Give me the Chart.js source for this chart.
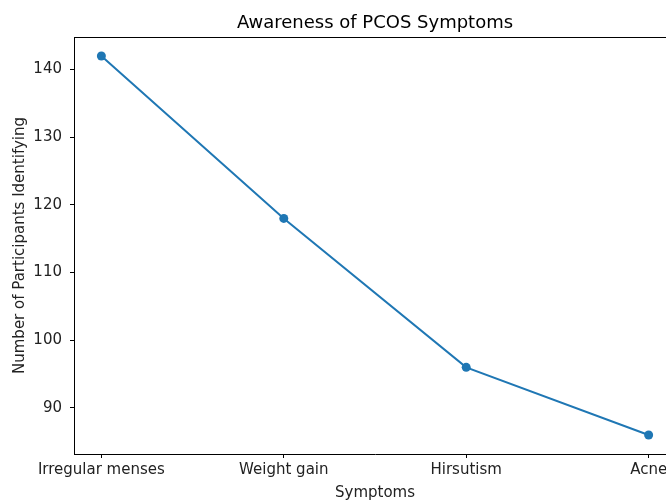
<!DOCTYPE html>
<html>
<head>
<meta charset="utf-8">
<script src="https://cdn.jsdelivr.net/npm/chart.js@4.4.1/dist/chart.umd.min.js"></script>
<style>
  html, body { margin: 0; padding: 0; background: #fff; overflow: hidden; }
  #wrap { width: 700px; height: 504px; }
</style>
</head>
<body>
<div id="wrap"><canvas id="chart" width="700" height="504"></canvas></div>
<script>
const symptoms = ['Irregular menses', 'Weight gain', 'Hirsutism', 'Acne'];
const participants = [142, 118, 96, 86];
const yTicks = [90, 100, 110, 120, 130, 140];

const FONT = 'DejaVu Sans';
const LINE = '#1f77b4';

// title, axis titles and top spine, placed relative to the chart area
const textPlugin = {
  id: 'mplText',
  afterDraw(chart) {
    const ctx = chart.ctx;
    const a = chart.chartArea;
    ctx.save();
    ctx.strokeStyle = '#000';
    ctx.lineWidth = 1;
    ctx.beginPath();
    ctx.moveTo(a.left, a.top + 0.5);
    ctx.lineTo(a.right, a.top + 0.5);
    ctx.stroke();

    ctx.fillStyle = '#000';
    ctx.textAlign = 'center';
    ctx.textBaseline = 'alphabetic';
    ctx.font = '18px "' + FONT + '"';
    ctx.fillText('Awareness of PCOS Symptoms', (a.left + a.right) / 2, 28);

    ctx.fillStyle = '#222';
    ctx.font = '15px "' + FONT + '"';
    ctx.fillText('Symptoms', (a.left + a.right) / 2, 497);

    ctx.translate(24, (a.top + a.bottom) / 2);
    ctx.rotate(-Math.PI / 2);
    ctx.fillText('Number of Participants Identifying', 0, 0);
    ctx.restore();
  }
};

new Chart(document.getElementById('chart'), {
  type: 'line',
  data: {
    datasets: [{
      data: participants.map((v, i) => ({ x: i, y: v })),
      borderColor: LINE,
      backgroundColor: LINE,
      borderWidth: 2,
      pointRadius: 4.5,
      pointHoverRadius: 4.5,
      pointBorderWidth: 0,
      tension: 0
    }]
  },
  options: {
    responsive: false,
    animation: false,
    layout: { padding: { left: 0, top: 37, right: 24, bottom: 0 } },
    plugins: { legend: { display: false }, tooltip: { enabled: false } },
    scales: {
      x: {
        type: 'linear',
        min: -0.15,
        max: 3.15,
        afterBuildTicks: s => { s.ticks = symptoms.map((_, i) => ({ value: i })); },
        afterFit: s => { s.height = 50; },
        ticks: {
          callback: v => symptoms[v],
          color: '#222',
          font: { family: FONT, size: 15 },
          padding: 3,
          maxRotation: 0,
          autoSkip: false
        },
        grid: { drawOnChartArea: false, drawTicks: true, tickLength: 4, color: '#000' },
        border: { display: true, color: '#000', width: 1 }
      },
      y: {
        min: 83.2,
        max: 144.8,
        afterBuildTicks: s => { s.ticks = yTicks.map(v => ({ value: v })); },
        afterFit: s => { s.width = 74; },
        ticks: {
          color: '#222',
          font: { family: FONT, size: 15 },
          padding: 8
        },
        grid: { drawOnChartArea: false, drawTicks: true, tickLength: 4, color: '#000' },
        border: { display: true, color: '#000', width: 1 }
      }
    }
  },
  plugins: [textPlugin]
});
</script>
</body>
</html>
